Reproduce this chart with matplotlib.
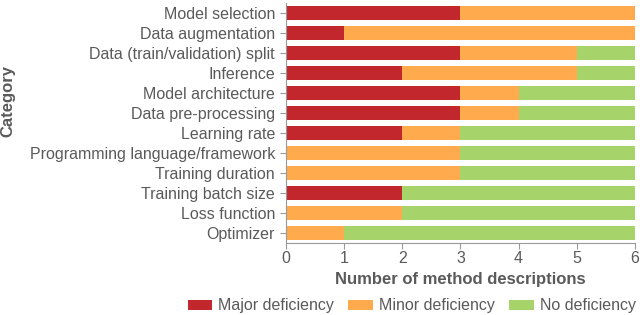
import matplotlib
matplotlib.use('Agg')
from matplotlib import pyplot as plt
import numpy as np

plt.rcParams['font.family'] = ['Liberation Sans', 'DejaVu Sans']

categories = ['Model selection', 'Data augmentation', 'Data (train/validation) split',
              'Inference', 'Model architecture', 'Data pre-processing', 'Learning rate',
              'Programming language/framework', 'Training duration', 'Training batch size',
              'Loss function', 'Optimizer']
major = [3, 1, 3, 2, 3, 3, 2, 0, 0, 2, 0, 0]
minor = [3, 5, 2, 3, 1, 1, 1, 3, 3, 0, 2, 1]
none_ = [0, 0, 1, 1, 2, 2, 3, 3, 3, 4, 4, 5]

text_col = '#5a5a5a'
fig = plt.figure(figsize=(6.4, 3.15), dpi=100)
ax = fig.add_axes([0.447, 0.229, 0.545, 0.762])

y = np.arange(len(categories))
major = np.array(major); minor = np.array(minor); none_ = np.array(none_)
h = 0.72
ax.barh(y, major, height=h, color='#C1272D', label='Major deficiency')
ax.barh(y, minor, left=major, height=h, color='#FFAA4D', label='Minor deficiency')
ax.barh(y, none_, left=major + minor, height=h, color='#A6D46A', label='No deficiency')

ax.set_ylim(len(categories) - 0.5, -0.5)
ax.set_xlim(0, 6)
ax.set_yticks(y)
ax.set_yticklabels(categories)
ax.set_xticks(range(7))
for s in ['top', 'right']:
    ax.spines[s].set_visible(False)
for s in ['left', 'bottom']:
    ax.spines[s].set_color('#999999')
ax.tick_params(colors='#999999', labelcolor=text_col, labelsize=11.5, length=4, pad=4)
ax.tick_params(axis='x', pad=2)
ax.set_xlabel('Number of method descriptions', fontsize=12, fontweight='bold',
              color=text_col, labelpad=4)
ax.set_ylabel('Category', fontsize=12, fontweight='bold', color=text_col)
ax.yaxis.set_label_coords(-0.776, 0.59)

fig.legend(loc='center', bbox_to_anchor=(0.643, 0.029), ncol=3, frameon=False,
           fontsize=11.5, labelcolor=text_col, handlelength=1.56, handleheight=0.62,
           handletextpad=0.35, columnspacing=0.9)
fig.savefig('out.png', dpi=100)
